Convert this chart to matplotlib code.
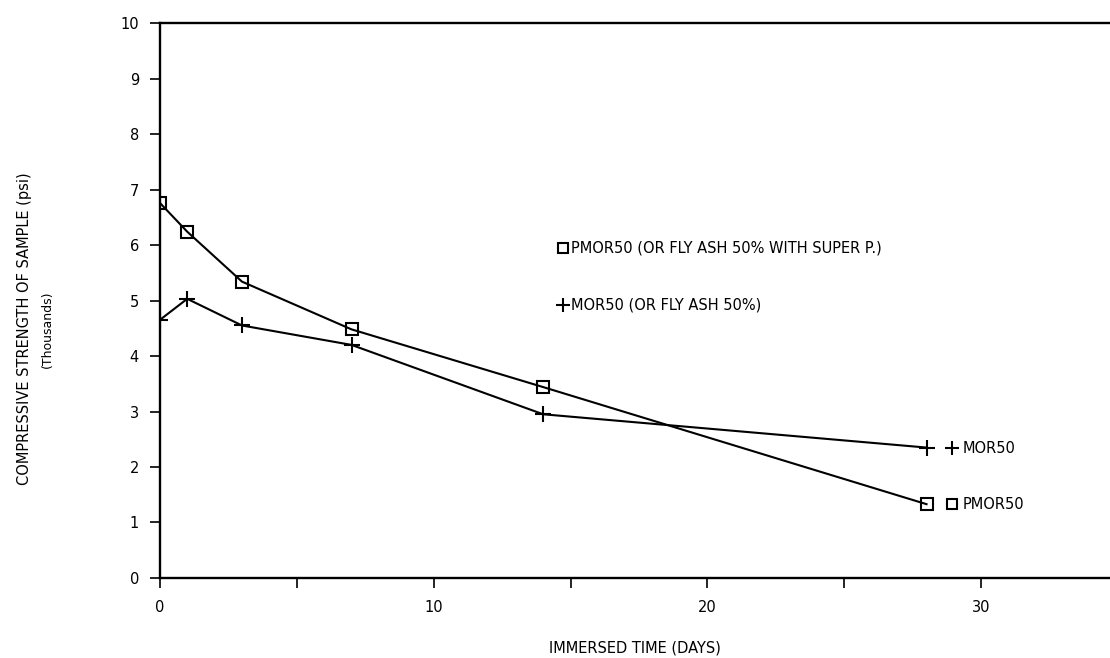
import matplotlib
matplotlib.use("Agg")
import matplotlib.pyplot as plt
from matplotlib.ticker import MultipleLocator

# immersed time (days)
days = [0, 1, 3, 7, 14, 28]
# compressive strength, thousands of psi
pmor50 = [6.76, 6.24, 5.34, 4.48, 3.44, 1.33]
mor50 = [4.65, 5.03, 4.55, 4.20, 2.95, 2.35]

x_ticks = [0, 10, 20, 30]
y_ticks = list(range(0, 11))

fig = plt.figure(figsize=(11.1, 6.58), dpi=100)
ax = fig.add_axes([0.144, 0.1216, 0.856, 0.8434])

# Data lines
ax.plot(days, pmor50, color="black", lw=1.5, marker="s", ms=8,
        mfc="none", mec="black", mew=1.5)
ax.plot(days, mor50, color="black", lw=1.5, marker="+", ms=11, mew=1.5)

ax.set_xlim(0, 34.7)
ax.set_ylim(0, 10)
ax.set_xticks(x_ticks)
ax.xaxis.set_minor_locator(MultipleLocator(5))
ax.set_yticks(y_ticks)

ax.spines["right"].set_visible(False)
for s in ["left", "bottom", "top"]:
    ax.spines[s].set_linewidth(1.7)
ax.tick_params(axis="both", which="both", direction="out", length=7,
               width=1.2, labelsize=10.5, pad=9)
ax.tick_params(axis="y", pad=8)

ax.set_xlabel("IMMERSED TIME (DAYS)", fontsize=10.5, labelpad=18)

# y label with sub line
fig.text(0.022, 0.5, "COMPRESSIVE STRENGTH OF SAMPLE (psi)", rotation=90,
         ha="center", va="center", fontsize=10.5)
fig.text(0.043, 0.5, "(Thousands)", rotation=90,
         ha="center", va="center", fontsize=9)

# Legend drawn as text inside the plot
tr = ax.transAxes
ax.plot([0.424], [0.595], transform=tr, marker="s", ms=7, mfc="none",
        mec="black", mew=1.5, clip_on=False)
ax.text(0.433, 0.595, "PMOR50 (OR FLY ASH 50% WITH SUPER P.)", transform=tr,
        va="center", fontsize=10.5)
ax.plot([0.424], [0.492], transform=tr, marker="+", ms=10, color="black",
        mew=1.5, clip_on=False)
ax.text(0.433, 0.492, "MOR50 (OR FLY ASH 50%)", transform=tr,
        va="center", fontsize=10.5)

# End labels
ax.plot([0.834], [0.234], transform=tr, marker="+", ms=10, color="black",
        mew=1.5, clip_on=False)
ax.text(0.845, 0.234, "MOR50", transform=tr, va="center", fontsize=10.5)
ax.plot([0.834], [0.133], transform=tr, marker="s", ms=7, mfc="none",
        mec="black", mew=1.5, clip_on=False)
ax.text(0.845, 0.133, "PMOR50", transform=tr, va="center", fontsize=10.5)

fig.savefig("out.png", dpi=100)
